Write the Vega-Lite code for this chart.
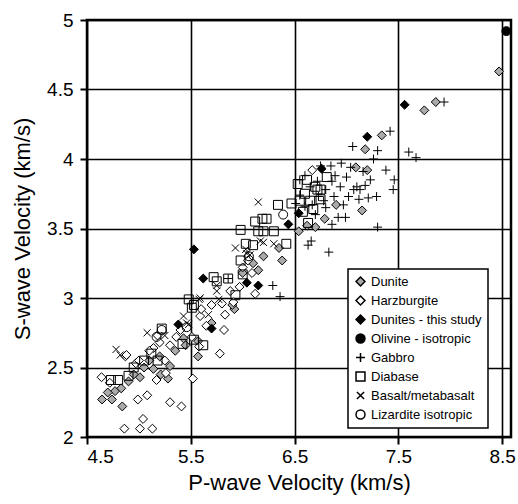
{
  "$schema": "https://vega.github.io/schema/vega-lite/v6.json",
  "autosize": {"type": "none"},
  "padding": {"left": 87, "top": 20, "right": 7, "bottom": 67},
  "width": 424,
  "height": 417,
  "config": {
    "font": "Liberation Sans",
    "view": {"stroke": "black", "strokeWidth": 2.5},
    "axis": {
      "grid": true, "gridColor": "black", "gridWidth": 1.6, "gridOpacity": 1,
      "domain": false, "tickColor": "black", "tickWidth": 2, "tickSize": 7,
      "labelFont": "Liberation Sans", "labelFontSize": 19, "labelColor": "black",
      "titleFont": "Liberation Sans", "titleFontSize": 22, "titleFontWeight": "normal", "titleColor": "black"
    },
    "legend": {
      "orient": "none", "legendX": 261, "legendY": 249,
      "strokeColor": "black", "strokeWidth": 1.5, "fillColor": "white",
      "padding": 6, "labelFont": "Liberation Sans", "labelFontSize": 13, "labelColor": "black",
      "rowPadding": 4, "labelOffset": 4
    }
  },
  "data": {"values": [
    {"rock": "Dunite", "vp": 8.47, "vs": 4.63},
    {"rock": "Dunite", "vp": 7.86, "vs": 4.41},
    {"rock": "Dunite", "vp": 7.75, "vs": 4.35},
    {"rock": "Dunite", "vp": 7.34, "vs": 4.17},
    {"rock": "Dunite", "vp": 7.18, "vs": 4.07},
    {"rock": "Dunite", "vp": 7.09, "vs": 3.94},
    {"rock": "Dunite", "vp": 7.2, "vs": 3.92},
    {"rock": "Dunite", "vp": 7.15, "vs": 3.63},
    {"rock": "Dunite", "vp": 6.9, "vs": 3.67},
    {"rock": "Dunite", "vp": 6.79, "vs": 3.57},
    {"rock": "Dunite", "vp": 6.7, "vs": 3.51},
    {"rock": "Dunite", "vp": 6.62, "vs": 3.52},
    {"rock": "Dunite", "vp": 6.54, "vs": 3.48},
    {"rock": "Dunite", "vp": 6.38, "vs": 3.27},
    {"rock": "Dunite", "vp": 5.92, "vs": 2.92},
    {"rock": "Dunite", "vp": 5.9, "vs": 2.95},
    {"rock": "Dunite", "vp": 5.57, "vs": 2.58},
    {"rock": "Dunite", "vp": 5.3, "vs": 2.51},
    {"rock": "Dunite", "vp": 5.14, "vs": 2.49},
    {"rock": "Dunite", "vp": 4.645, "vs": 2.27},
    {"rock": "Dunite", "vp": 4.74, "vs": 2.27},
    {"rock": "Dunite", "vp": 4.84, "vs": 2.22},
    {"rock": "Dunite", "vp": 4.77, "vs": 2.33},
    {"rock": "Dunite", "vp": 5.01, "vs": 2.43},
    {"rock": "Dunite", "vp": 5.21, "vs": 2.45},
    {"rock": "Dunite", "vp": 5.45, "vs": 2.66},
    {"rock": "Dunite", "vp": 5.57, "vs": 2.69},
    {"rock": "Dunite", "vp": 5.43, "vs": 2.71},
    {"rock": "Dunite", "vp": 4.83, "vs": 2.35},
    {"rock": "Dunite", "vp": 5.28, "vs": 2.42},
    {"rock": "Dunite", "vp": 4.9, "vs": 2.4},
    {"rock": "Dunite", "vp": 4.95, "vs": 2.45},
    {"rock": "Dunite", "vp": 5.05, "vs": 2.5},
    {"rock": "Dunite", "vp": 5.1, "vs": 2.55},
    {"rock": "Dunite", "vp": 5.2, "vs": 2.58},
    {"rock": "Dunite", "vp": 5.35, "vs": 2.62},
    {"rock": "Dunite", "vp": 4.7, "vs": 2.32},
    {"rock": "Dunite", "vp": 5.7, "vs": 2.82},
    {"rock": "Dunite", "vp": 6.1, "vs": 3.25},
    {"rock": "Dunite", "vp": 6.15, "vs": 3.2},
    {"rock": "Dunite", "vp": 6.2, "vs": 3.3},
    {"rock": "Dunite", "vp": 6.0, "vs": 3.18},
    {"rock": "Dunite", "vp": 6.35, "vs": 3.36},
    {"rock": "Harzburgite", "vp": 4.64, "vs": 2.43},
    {"rock": "Harzburgite", "vp": 4.72, "vs": 2.39},
    {"rock": "Harzburgite", "vp": 4.87, "vs": 2.58},
    {"rock": "Harzburgite", "vp": 4.99, "vs": 2.27},
    {"rock": "Harzburgite", "vp": 5.08, "vs": 2.3},
    {"rock": "Harzburgite", "vp": 5.3, "vs": 2.25},
    {"rock": "Harzburgite", "vp": 5.41, "vs": 2.22},
    {"rock": "Harzburgite", "vp": 5.04, "vs": 2.13},
    {"rock": "Harzburgite", "vp": 4.86, "vs": 2.06},
    {"rock": "Harzburgite", "vp": 5.01, "vs": 2.06},
    {"rock": "Harzburgite", "vp": 5.13, "vs": 2.06},
    {"rock": "Harzburgite", "vp": 5.52, "vs": 2.42},
    {"rock": "Harzburgite", "vp": 5.17, "vs": 2.41},
    {"rock": "Harzburgite", "vp": 5.26, "vs": 2.46},
    {"rock": "Harzburgite", "vp": 4.97, "vs": 2.53},
    {"rock": "Harzburgite", "vp": 5.14, "vs": 2.64},
    {"rock": "Harzburgite", "vp": 5.36, "vs": 2.72},
    {"rock": "Harzburgite", "vp": 5.18, "vs": 2.73},
    {"rock": "Harzburgite", "vp": 5.3, "vs": 2.66},
    {"rock": "Harzburgite", "vp": 5.78, "vs": 2.6},
    {"rock": "Harzburgite", "vp": 5.82, "vs": 2.77},
    {"rock": "Harzburgite", "vp": 5.83, "vs": 2.88},
    {"rock": "Harzburgite", "vp": 5.59, "vs": 2.87},
    {"rock": "Harzburgite", "vp": 5.4, "vs": 2.77},
    {"rock": "Harzburgite", "vp": 5.58, "vs": 2.65},
    {"rock": "Harzburgite", "vp": 5.88, "vs": 3.05},
    {"rock": "Harzburgite", "vp": 6.12, "vs": 3.03},
    {"rock": "Harzburgite", "vp": 5.97, "vs": 3.08},
    {"rock": "Harzburgite", "vp": 5.51, "vs": 2.72},
    {"rock": "Harzburgite", "vp": 5.91, "vs": 2.97},
    {"rock": "Harzburgite", "vp": 5.8, "vs": 2.96},
    {"rock": "Harzburgite", "vp": 6.67, "vs": 3.92},
    {"rock": "Harzburgite", "vp": 6.09, "vs": 3.18},
    {"rock": "Harzburgite", "vp": 4.88, "vs": 2.59},
    {"rock": "Harzburgite", "vp": 5.0, "vs": 2.55},
    {"rock": "Harzburgite", "vp": 5.1, "vs": 2.62},
    {"rock": "Harzburgite", "vp": 5.2, "vs": 2.68},
    {"rock": "Harzburgite", "vp": 5.25, "vs": 2.55},
    {"rock": "Harzburgite", "vp": 5.6, "vs": 2.92},
    {"rock": "Harzburgite", "vp": 5.7, "vs": 2.95},
    {"rock": "Harzburgite", "vp": 5.65, "vs": 2.8},
    {"rock": "Harzburgite", "vp": 6.0, "vs": 3.22},
    {"rock": "Harzburgite", "vp": 6.05, "vs": 3.27},
    {"rock": "Dunites - this study", "vp": 7.56, "vs": 4.39},
    {"rock": "Dunites - this study", "vp": 7.2, "vs": 4.16},
    {"rock": "Dunites - this study", "vp": 6.76, "vs": 3.93},
    {"rock": "Dunites - this study", "vp": 6.54, "vs": 3.61},
    {"rock": "Dunites - this study", "vp": 6.44, "vs": 3.53},
    {"rock": "Dunites - this study", "vp": 5.53, "vs": 3.35},
    {"rock": "Dunites - this study", "vp": 5.62, "vs": 3.14},
    {"rock": "Dunites - this study", "vp": 6.04, "vs": 3.11},
    {"rock": "Dunites - this study", "vp": 6.15, "vs": 3.09},
    {"rock": "Dunites - this study", "vp": 5.38, "vs": 2.81},
    {"rock": "Dunites - this study", "vp": 5.7, "vs": 2.78},
    {"rock": "Olivine - isotropic", "vp": 8.54, "vs": 4.92},
    {"rock": "Gabbro", "vp": 7.94, "vs": 4.41},
    {"rock": "Gabbro", "vp": 7.42, "vs": 4.2},
    {"rock": "Gabbro", "vp": 7.06, "vs": 4.09},
    {"rock": "Gabbro", "vp": 7.3, "vs": 4.06},
    {"rock": "Gabbro", "vp": 7.26, "vs": 4.0},
    {"rock": "Gabbro", "vp": 7.6, "vs": 4.05},
    {"rock": "Gabbro", "vp": 7.67, "vs": 4.01},
    {"rock": "Gabbro", "vp": 7.38, "vs": 3.92},
    {"rock": "Gabbro", "vp": 7.46, "vs": 3.85},
    {"rock": "Gabbro", "vp": 7.45, "vs": 3.78},
    {"rock": "Gabbro", "vp": 7.29, "vs": 3.73},
    {"rock": "Gabbro", "vp": 7.21, "vs": 3.72},
    {"rock": "Gabbro", "vp": 7.23, "vs": 3.85},
    {"rock": "Gabbro", "vp": 7.13, "vs": 3.78},
    {"rock": "Gabbro", "vp": 7.12, "vs": 3.71},
    {"rock": "Gabbro", "vp": 6.99, "vs": 3.58},
    {"rock": "Gabbro", "vp": 6.86, "vs": 3.53},
    {"rock": "Gabbro", "vp": 7.3, "vs": 3.51},
    {"rock": "Gabbro", "vp": 6.66, "vs": 3.41},
    {"rock": "Gabbro", "vp": 6.63, "vs": 3.38},
    {"rock": "Gabbro", "vp": 7.04, "vs": 3.94},
    {"rock": "Gabbro", "vp": 7.16, "vs": 3.91},
    {"rock": "Gabbro", "vp": 7.0, "vs": 3.87},
    {"rock": "Gabbro", "vp": 6.89, "vs": 3.88},
    {"rock": "Gabbro", "vp": 7.07, "vs": 3.78},
    {"rock": "Gabbro", "vp": 6.94, "vs": 3.8},
    {"rock": "Gabbro", "vp": 6.86, "vs": 3.84},
    {"rock": "Gabbro", "vp": 6.8, "vs": 3.78},
    {"rock": "Gabbro", "vp": 6.72, "vs": 3.84},
    {"rock": "Gabbro", "vp": 6.73, "vs": 3.73},
    {"rock": "Gabbro", "vp": 6.67, "vs": 3.67},
    {"rock": "Gabbro", "vp": 6.6, "vs": 3.66},
    {"rock": "Gabbro", "vp": 7.18, "vs": 3.81},
    {"rock": "Gabbro", "vp": 7.02, "vs": 3.73},
    {"rock": "Gabbro", "vp": 6.97, "vs": 3.67},
    {"rock": "Gabbro", "vp": 6.88, "vs": 3.73},
    {"rock": "Gabbro", "vp": 6.8, "vs": 3.65},
    {"rock": "Gabbro", "vp": 6.92, "vs": 3.58},
    {"rock": "Gabbro", "vp": 6.55, "vs": 3.74},
    {"rock": "Gabbro", "vp": 6.51, "vs": 3.68},
    {"rock": "Gabbro", "vp": 6.29, "vs": 3.09},
    {"rock": "Gabbro", "vp": 6.36, "vs": 3.01},
    {"rock": "Gabbro", "vp": 5.86, "vs": 3.14},
    {"rock": "Gabbro", "vp": 7.1, "vs": 3.8},
    {"rock": "Gabbro", "vp": 6.6, "vs": 3.88},
    {"rock": "Gabbro", "vp": 6.65, "vs": 3.8},
    {"rock": "Gabbro", "vp": 6.75, "vs": 3.95},
    {"rock": "Gabbro", "vp": 6.55, "vs": 3.85},
    {"rock": "Gabbro", "vp": 6.85, "vs": 3.95},
    {"rock": "Gabbro", "vp": 6.95, "vs": 3.97},
    {"rock": "Gabbro", "vp": 6.83, "vs": 3.33},
    {"rock": "Gabbro", "vp": 6.7, "vs": 3.6},
    {"rock": "Gabbro", "vp": 6.78, "vs": 3.7},
    {"rock": "Diabase", "vp": 6.53, "vs": 3.82},
    {"rock": "Diabase", "vp": 6.34, "vs": 3.67},
    {"rock": "Diabase", "vp": 6.47, "vs": 3.68},
    {"rock": "Diabase", "vp": 6.12, "vs": 3.55},
    {"rock": "Diabase", "vp": 6.19, "vs": 3.57},
    {"rock": "Diabase", "vp": 6.23, "vs": 3.57},
    {"rock": "Diabase", "vp": 6.2, "vs": 3.48},
    {"rock": "Diabase", "vp": 6.3, "vs": 3.48},
    {"rock": "Diabase", "vp": 6.42, "vs": 3.39},
    {"rock": "Diabase", "vp": 6.63, "vs": 3.54},
    {"rock": "Diabase", "vp": 6.72, "vs": 3.78},
    {"rock": "Diabase", "vp": 6.81, "vs": 3.87},
    {"rock": "Diabase", "vp": 6.75, "vs": 3.71},
    {"rock": "Diabase", "vp": 5.98, "vs": 3.49},
    {"rock": "Diabase", "vp": 6.15, "vs": 3.48},
    {"rock": "Diabase", "vp": 6.03, "vs": 3.39},
    {"rock": "Diabase", "vp": 6.1, "vs": 3.38},
    {"rock": "Diabase", "vp": 5.98, "vs": 3.27},
    {"rock": "Diabase", "vp": 6.0, "vs": 3.17},
    {"rock": "Diabase", "vp": 5.86, "vs": 3.14},
    {"rock": "Diabase", "vp": 5.53, "vs": 2.95},
    {"rock": "Diabase", "vp": 5.72, "vs": 3.15},
    {"rock": "Diabase", "vp": 5.93, "vs": 3.02},
    {"rock": "Diabase", "vp": 5.48, "vs": 2.99},
    {"rock": "Diabase", "vp": 5.51, "vs": 2.93},
    {"rock": "Diabase", "vp": 5.75, "vs": 3.12},
    {"rock": "Diabase", "vp": 5.22, "vs": 2.78},
    {"rock": "Diabase", "vp": 5.53, "vs": 2.7},
    {"rock": "Diabase", "vp": 5.62, "vs": 2.66},
    {"rock": "Diabase", "vp": 5.42, "vs": 2.67},
    {"rock": "Diabase", "vp": 5.18, "vs": 2.55},
    {"rock": "Diabase", "vp": 6.6, "vs": 3.75},
    {"rock": "Diabase", "vp": 6.65, "vs": 3.7},
    {"rock": "Diabase", "vp": 6.58, "vs": 3.62},
    {"rock": "Diabase", "vp": 6.7, "vs": 3.8},
    {"rock": "Diabase", "vp": 6.62, "vs": 3.85},
    {"rock": "Diabase", "vp": 6.75, "vs": 3.78},
    {"rock": "Diabase", "vp": 6.68, "vs": 3.64},
    {"rock": "Diabase", "vp": 6.55, "vs": 3.7},
    {"rock": "Diabase", "vp": 4.8, "vs": 2.41},
    {"rock": "Diabase", "vp": 4.73, "vs": 2.41},
    {"rock": "Diabase", "vp": 4.95, "vs": 2.5},
    {"rock": "Diabase", "vp": 5.05, "vs": 2.55},
    {"rock": "Diabase", "vp": 5.12, "vs": 2.6},
    {"rock": "Diabase", "vp": 4.9, "vs": 2.44},
    {"rock": "Basalt/metabasalt", "vp": 5.08, "vs": 2.75},
    {"rock": "Basalt/metabasalt", "vp": 4.78, "vs": 2.63},
    {"rock": "Basalt/metabasalt", "vp": 4.82, "vs": 2.59},
    {"rock": "Basalt/metabasalt", "vp": 5.43, "vs": 2.87},
    {"rock": "Basalt/metabasalt", "vp": 5.25, "vs": 2.73},
    {"rock": "Basalt/metabasalt", "vp": 5.67, "vs": 2.88},
    {"rock": "Basalt/metabasalt", "vp": 5.46, "vs": 2.82},
    {"rock": "Basalt/metabasalt", "vp": 6.15, "vs": 3.69},
    {"rock": "Basalt/metabasalt", "vp": 5.93, "vs": 3.36},
    {"rock": "Basalt/metabasalt", "vp": 6.2, "vs": 3.4},
    {"rock": "Basalt/metabasalt", "vp": 6.3, "vs": 3.39},
    {"rock": "Basalt/metabasalt", "vp": 6.03, "vs": 3.35},
    {"rock": "Basalt/metabasalt", "vp": 5.75, "vs": 3.09},
    {"rock": "Basalt/metabasalt", "vp": 5.75, "vs": 3.05},
    {"rock": "Basalt/metabasalt", "vp": 5.59, "vs": 3.0},
    {"rock": "Basalt/metabasalt", "vp": 6.07, "vs": 3.31},
    {"rock": "Basalt/metabasalt", "vp": 5.58, "vs": 2.99},
    {"rock": "Basalt/metabasalt", "vp": 5.77, "vs": 2.99},
    {"rock": "Basalt/metabasalt", "vp": 5.48, "vs": 2.81},
    {"rock": "Basalt/metabasalt", "vp": 6.17, "vs": 3.41},
    {"rock": "Basalt/metabasalt", "vp": 6.04, "vs": 3.32},
    {"rock": "Lizardite isotropic", "vp": 6.39, "vs": 3.6},
    {"rock": "Lizardite isotropic", "vp": 6.06, "vs": 3.3},
    {"rock": "Lizardite isotropic", "vp": 5.46, "vs": 2.79},
    {"rock": "Lizardite isotropic", "vp": 5.17, "vs": 2.72},
    {"rock": "Lizardite isotropic", "vp": 5.22, "vs": 2.77}
  ]},
  "mark": {"type": "point", "filled": true, "stroke": "black", "strokeWidth": 1, "opacity": 1},
  "encoding": {
    "x": {
      "field": "vp", "type": "quantitative",
      "scale": {"domain": [4.5, 8.585], "nice": false, "zero": false},
      "axis": {"values": [4.5, 5.5, 6.5, 7.5, 8.5], "format": ".1f", "title": "P-wave Velocity (km/s)", "labelPadding": 3, "titlePadding": 6}
    },
    "y": {
      "field": "vs", "type": "quantitative",
      "scale": {"domain": [2, 5], "nice": false, "zero": false},
      "axis": {"values": [2, 2.5, 3, 3.5, 4, 4.5, 5], "format": "~g", "title": "S-wave Velocity (km/s)", "labelPadding": 7, "titlePadding": 12}
    },
    "shape": {
      "field": "rock", "type": "nominal",
      "scale": {
        "domain": ["Dunite", "Harzburgite", "Dunites - this study", "Olivine - isotropic", "Gabbro", "Diabase", "Basalt/metabasalt", "Lizardite isotropic"],
        "range": ["diamond", "diamond", "diamond", "circle", "M-1,0L1,0M0,-1L0,1", "square", "M-0.8,-0.8L0.8,0.8M-0.8,0.8L0.8,-0.8", "circle"]
      },
      "legend": {"title": null, "encode": {"symbols": {"update": {"stroke": {"value": "black"}, "strokeWidth": {"value": 1.2}}}}}
    },
    "fill": {
      "field": "rock", "type": "nominal",
      "scale": {
        "domain": ["Dunite", "Harzburgite", "Dunites - this study", "Olivine - isotropic", "Gabbro", "Diabase", "Basalt/metabasalt", "Lizardite isotropic"],
        "range": ["#aaaaaa", "white", "black", "black", "transparent", "transparent", "transparent", "transparent"]
      },
      "legend": {"title": null, "encode": {"symbols": {"update": {"stroke": {"value": "black"}, "strokeWidth": {"value": 1.2}}}}}
    },
    "size": {
      "field": "rock", "type": "nominal",
      "scale": {
        "domain": ["Dunite", "Harzburgite", "Dunites - this study", "Olivine - isotropic", "Gabbro", "Diabase", "Basalt/metabasalt", "Lizardite isotropic"],
        "range": [80, 80, 100, 100, 75, 45, 90, 70]
      },
      "legend": {"title": null, "encode": {"symbols": {"update": {"stroke": {"value": "black"}, "strokeWidth": {"value": 1.2}}}}}
    }
  }
}
